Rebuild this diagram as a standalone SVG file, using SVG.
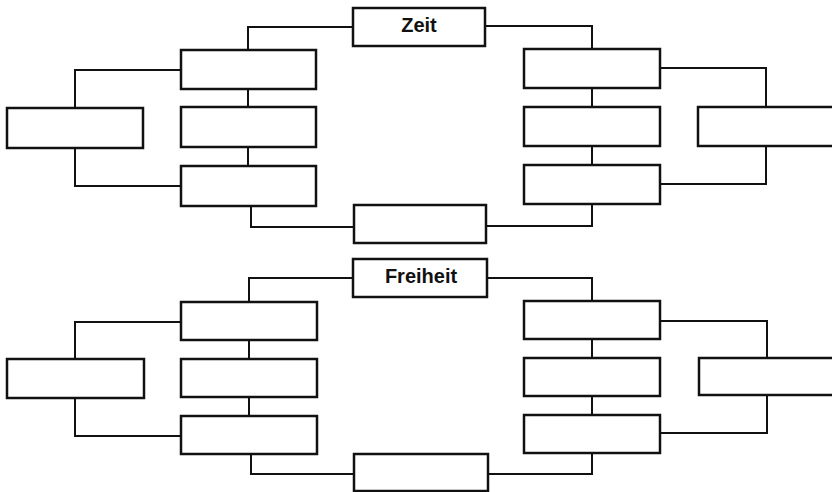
<svg xmlns="http://www.w3.org/2000/svg" width="832" height="492" viewBox="0 0 832 492">
<style>
.box{fill:#fff;stroke:#111;stroke-width:2.5}
.ln{fill:none;stroke:#111;stroke-width:2;stroke-linejoin:miter}
.t{font-family:"Liberation Sans",Arial,sans-serif;font-weight:bold;font-size:20px;fill:#111;text-anchor:middle}
</style>
<rect width="832" height="492" fill="#fff"/>
<g id="connectors">
<!-- top diagram -->
<path class="ln" d="M353,27 H248 V50"/>
<path class="ln" d="M248,89 V107"/>
<path class="ln" d="M248,147 V166"/>
<path class="ln" d="M251,206 V227 H354"/>
<path class="ln" d="M181,70 H75 V108"/>
<path class="ln" d="M75,148 V186 H181"/>
<path class="ln" d="M485,26 H592 V49"/>
<path class="ln" d="M592,88 V107"/>
<path class="ln" d="M592,146 V165"/>
<path class="ln" d="M592,204 V226 H487"/>
<path class="ln" d="M660,68 H766 V107"/>
<path class="ln" d="M766,146 V184 H660"/>
<!-- bottom diagram -->
<path class="ln" d="M353,278 H249 V302"/>
<path class="ln" d="M249,340 V359"/>
<path class="ln" d="M249,397 V416"/>
<path class="ln" d="M251,454 V474 H354"/>
<path class="ln" d="M181,322 H75 V359"/>
<path class="ln" d="M75,398 V436 H181"/>
<path class="ln" d="M487,278 H592 V301"/>
<path class="ln" d="M592,339 V358"/>
<path class="ln" d="M592,396 V415"/>
<path class="ln" d="M592,453 V474 H488"/>
<path class="ln" d="M660,321 H767 V358"/>
<path class="ln" d="M767,395 V433 H660"/>
</g>
<!-- top diagram nodes -->
<g id="zeit"><rect class="box" x="353" y="8" width="132" height="38"/><text class="t" x="419" y="32">Zeit</text></g>
<g id="top-bottom"><rect class="box" x="354" y="205" width="132" height="38"/></g>
<g id="top-l1"><rect class="box" x="181" y="50" width="135" height="39"/></g>
<g id="top-l2"><rect class="box" x="181" y="107" width="135" height="40"/></g>
<g id="top-l3"><rect class="box" x="181" y="166" width="135" height="40"/></g>
<g id="top-ll"><rect class="box" x="7" y="108" width="136" height="40"/></g>
<g id="top-r1"><rect class="box" x="524" y="49" width="136" height="39"/></g>
<g id="top-r2"><rect class="box" x="524" y="107" width="136" height="39"/></g>
<g id="top-r3"><rect class="box" x="524" y="165" width="136" height="39"/></g>
<g id="top-rr"><rect class="box" x="698" y="107" width="140" height="39"/></g>
<!-- bottom diagram nodes -->
<g id="freiheit"><rect class="box" x="353" y="259" width="134" height="38"/><text class="t" x="421" y="283">Freiheit</text></g>
<g id="bot-bottom"><rect class="box" x="354" y="454" width="134" height="37"/></g>
<g id="bot-l1"><rect class="box" x="181" y="302" width="136" height="38"/></g>
<g id="bot-l2"><rect class="box" x="181" y="359" width="136" height="38"/></g>
<g id="bot-l3"><rect class="box" x="181" y="416" width="136" height="38"/></g>
<g id="bot-ll"><rect class="box" x="7" y="359" width="137" height="39"/></g>
<g id="bot-r1"><rect class="box" x="524" y="301" width="136" height="38"/></g>
<g id="bot-r2"><rect class="box" x="524" y="358" width="136" height="38"/></g>
<g id="bot-r3"><rect class="box" x="524" y="415" width="136" height="38"/></g>
<g id="bot-rr"><rect class="box" x="699" y="358" width="140" height="37"/></g>
</svg>
